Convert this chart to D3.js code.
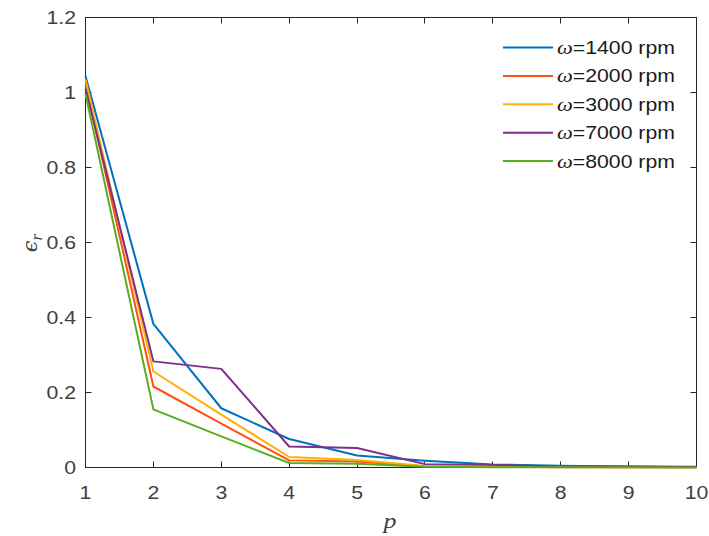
<!DOCTYPE html>
<html>
<head>
<meta charset="utf-8">
<script src="https://cdn.jsdelivr.net/npm/d3@7/dist/d3.min.js"></script>
<style>
  html, body { margin: 0; padding: 0; background: #fff; }
  svg { display: block; font-family: "Liberation Sans", Arial, Helvetica, sans-serif; }
</style>
</head>
<body>
<svg id="chart" width="709" height="536"></svg>
<script>
// Relative error ϵ_r versus mode order p for several rotational speeds
const pValues = [1, 2, 3, 4, 5, 6, 7, 8, 9, 10];
const seriesNames = ["1400", "2000", "3000", "7000", "8000"];
const eps1400 = [1.044, 0.383, 0.158, 0.076, 0.032, 0.018, 0.008, 0.005, 0.003, 0.001];
const eps2000 = [1.022, 0.216, 0.117, 0.019, 0.016, 0.003, 0.002, 0.001, 0.001, 0.001];
const eps3000 = [1.035, 0.256, 0.141, 0.028, 0.020, 0.004, 0.002, 0.002, 0.001, 0.001];
const eps7000 = [1.010, 0.283, 0.263, 0.056, 0.052, 0.009, 0.007, 0.003, 0.003, 0.002];
const eps8000 = [0.996, 0.155, 0.083, 0.012, 0.010, 0.002, 0.001, 0.001, 0.001, 0.000];
const seriesValues = [eps1400, eps2000, eps3000, eps7000, eps8000];
const seriesColors = ["#0072BD", "#FF5014", "#FFB000", "#7E2F8E", "#59AE1E"];
const xTicks = [1, 2, 3, 4, 5, 6, 7, 8, 9, 10];
const yTicks = [0, 0.2, 0.4, 0.6, 0.8, 1, 1.2];

const svg = d3.select("#chart");
const plotLeft = 85.5, plotRight = 696.5, plotTop = 17.5, plotBottom = 467.5;

const x = d3.scaleLinear().domain([1, 10]).range([plotLeft, plotRight]);
const y = d3.scaleLinear().domain([0, 1.2]).range([plotBottom, plotTop]);

const textColor = "#404040";
const axisColor = "#262626";
const fontSize = 18;
const stretch = 1.18;   // glyphs are drawn slightly wide

// Places a horizontally widened text element at (px, py)
function wideText(parent, px, py) {
  return parent.append("text")
    .attr("transform", `translate(${px},${py}) scale(${stretch},1)`);
}

// Plot box
svg.append("rect")
  .attr("x", plotLeft).attr("y", plotTop)
  .attr("width", plotRight - plotLeft).attr("height", plotBottom - plotTop)
  .attr("fill", "none").attr("stroke", axisColor).attr("stroke-width", 1);

const tickLen = 6;
// Inward ticks on all four sides
const g = svg.append("g").attr("stroke", axisColor).attr("stroke-width", 1);
xTicks.forEach(t => {
  const px = Math.round(x(t) - 0.5) + 0.5;
  g.append("line").attr("x1", px).attr("x2", px).attr("y1", plotBottom).attr("y2", plotBottom - tickLen);
  g.append("line").attr("x1", px).attr("x2", px).attr("y1", plotTop).attr("y2", plotTop + tickLen);
});
yTicks.forEach(t => {
  const py = Math.round(y(t) - 0.5) + 0.5;
  g.append("line").attr("x1", plotLeft).attr("x2", plotLeft + tickLen).attr("y1", py).attr("y2", py);
  g.append("line").attr("x1", plotRight).attr("x2", plotRight - tickLen).attr("y1", py).attr("y2", py);
});

// Tick labels
const xl = svg.append("g").attr("font-size", fontSize).attr("fill", textColor).attr("text-anchor", "middle");
xTicks.forEach(t => wideText(xl, x(t), plotBottom + 31).text(String(t)));

const ylab = svg.append("g").attr("font-size", fontSize).attr("fill", textColor).attr("text-anchor", "end");
yTicks.forEach(t => wideText(ylab, plotLeft - 9.5, y(t) + 6.5).text(String(+t.toFixed(1))));

// Axis titles
wideText(svg, 390, 528)
  .attr("text-anchor", "middle")
  .attr("font-family", "'Liberation Serif', 'Times New Roman', serif")
  .attr("font-style", "italic")
  .attr("font-size", 22).attr("fill", textColor)
  .text("p");

const yl = svg.append("text")
  .attr("transform", "translate(37,243) rotate(-90)")
  .attr("text-anchor", "middle")
  .attr("font-family", "'DejaVu Serif', 'Liberation Serif', serif")
  .attr("font-style", "italic")
  .attr("fill", textColor);
yl.append("tspan").attr("font-size", 21).text("ϵ");
yl.append("tspan")
  .attr("font-family", "'Liberation Serif', 'Times New Roman', serif")
  .attr("font-size", 17).attr("dy", 5).text("r");

// Series lines
const line = d3.line().x((d, i) => x(pValues[i])).y(d => y(d));
seriesValues.forEach((vals, k) => {
  svg.append("path")
    .datum(vals)
    .attr("d", line)
    .attr("fill", "none")
    .attr("stroke", seriesColors[k])
    .attr("stroke-width", 2)
    .attr("stroke-linejoin", "round");
});

// Legend
const legend = svg.append("g");
seriesNames.forEach((name, k) => {
  const cy = 47.5 + k * 28.4;
  legend.append("line")
    .attr("x1", 503).attr("x2", 553).attr("y1", cy).attr("y2", cy)
    .attr("stroke", seriesColors[k]).attr("stroke-width", 2);
  const t = wideText(legend, 557, cy + 6.5)
    .attr("font-size", fontSize).attr("fill", "#1a1a1a");
  t.append("tspan")
    .attr("font-family", "'Liberation Serif', 'Times New Roman', serif")
    .attr("font-style", "italic").attr("font-size", 19).text("ω");
  t.append("tspan").text("=" + name + " rpm");
});
</script>
</body>
</html>
